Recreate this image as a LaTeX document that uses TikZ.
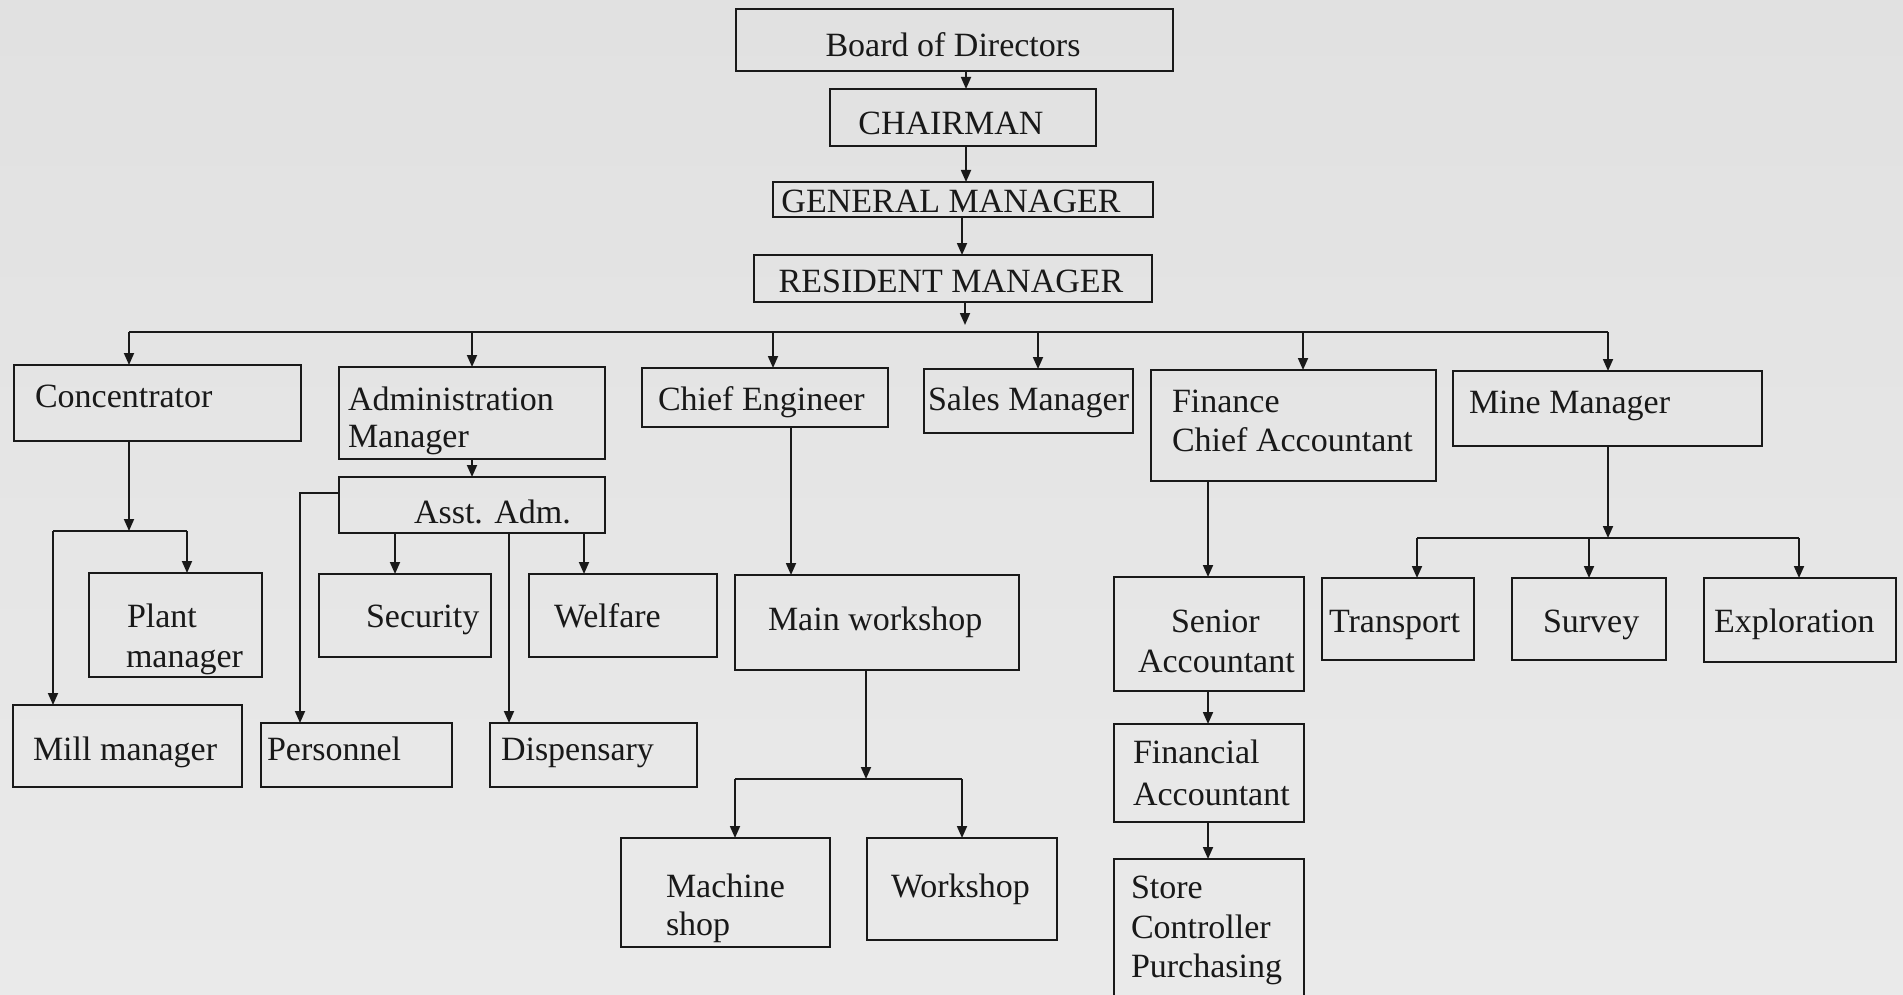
\documentclass[tikz,border=0pt]{standalone}
\usepackage{fontspec}
\setmainfont{Liberation Serif}
\newfontfamily\tnr{Liberation Serif}
\usetikzlibrary{arrows.meta,fit}
\definecolor{bg}{RGB}{225,225,225}
\definecolor{bgl}{RGB}{234,234,234}
\definecolor{ink}{RGB}{25,25,25}
\tikzset{
  box/.style={draw=ink, line width=2.8pt, inner sep=0pt, outer sep=0pt, rectangle},
  txt/.style={inner sep=0pt, outer sep=0pt, text=ink, font=\tnr\fontsize{34}{39}\selectfont, anchor=base west},
  ctxt/.style={txt, anchor=base},
  arr/.style={draw=ink, line width=1.8pt, -{Triangle[length=12pt,width=10pt]}},
  conn/.style={draw=ink, line width=1.8pt},
  busline/.style={draw=ink, line width=2.6pt}
}
\begin{document}
\begin{tikzpicture}[x=1pt,y=-1pt]
\clip (0,0) rectangle (1903,995);
\shade[top color=bg, bottom color=bgl] (0,0) rectangle (1903,995);
% boxes
\node[box, fit={(736,9)(1173,71)}] (board) {};
\node[box, fit={(830,89)(1096,146)}] (chair) {};
\node[box, fit={(773,182)(1153,217)}] (gm) {};
\node[box, fit={(754,255)(1152,302)}] (rm) {};
\node[box, fit={(14,365)(301,441)}] (conc) {};
\node[box, fit={(339,367)(605,459)}] (admin) {};
\node[box, fit={(642,368)(888,427)}] (chiefeng) {};
\node[box, fit={(924,369)(1133,433)}] (sales) {};
\node[box, fit={(1151,370)(1436,481)}] (fin) {};
\node[box, fit={(1453,371)(1762,446)}] (mine) {};
\node[box, fit={(339,477)(605,533)}] (asst) {};
\node[box, fit={(89,573)(262,677)}] (plant) {};
\node[box, fit={(13,705)(242,787)}] (mill) {};
\node[box, fit={(319,574)(491,657)}] (security) {};
\node[box, fit={(529,574)(717,657)}] (welfare) {};
\node[box, fit={(261,723)(452,787)}] (personnel) {};
\node[box, fit={(490,723)(697,787)}] (dispensary) {};
\node[box, fit={(735,575)(1019,670)}] (mainws) {};
\node[box, fit={(621,838)(830,947)}] (machine) {};
\node[box, fit={(867,838)(1057,940)}] (workshop) {};
\node[box, fit={(1114,577)(1304,691)}] (senior) {};
\node[box, fit={(1114,724)(1304,822)}] (finacc) {};
\node[box, fit={(1114,859)(1304,1010)}] (store) {};
\node[box, fit={(1322,578)(1474,660)}] (transport) {};
\node[box, fit={(1512,578)(1666,660)}] (survey) {};
\node[box, fit={(1704,578)(1896,662)}] (explor) {};
% texts
\node[ctxt] (tboard) at (953,57) {Board of Directors};
\node[ctxt] (tchair) at (951,135) {CHAIRMAN};
\node[ctxt] (tgm) at (951,213) {GENERAL MANAGER};
\node[ctxt] (trm) at (951,292) {RESIDENT MANAGER};
\node[txt] (tconc) at (35,407) {Concentrator};
\node[txt] (tadm1) at (348,410) {Administration};
\node[txt] (tadm2) at (348,447) {Manager};
\node[txt] (tce) at (658,410) {Chief Engineer};
\node[txt] (tsales) at (928,410) {Sales Manager};
\node[txt] (tfin1) at (1172,412) {Finance};
\node[txt] (tfin2) at (1172,451) {Chief Accountant};
\node[txt] (tmine) at (1469,413) {Mine Manager};
\node[txt] (tasst) at (414,523) {Asst. Adm.};
\node[txt] (tplant1) at (127,627) {Plant};
\node[txt] (tplant2) at (126,667) {manager};
\node[txt] (tsec) at (366,627) {Security};
\node[txt] (twel) at (554,627) {Welfare};
\node[txt] (tmill) at (33,760) {Mill manager};
\node[txt] (tpers) at (267,760) {Personnel};
\node[txt] (tdisp) at (501,760) {Dispensary};
\node[txt] (tmain) at (768,630) {Main workshop};
\node[txt] (tmach1) at (666,897) {Machine};
\node[txt] (tmach2) at (666,935) {shop};
\node[txt] (tws) at (891,897) {Workshop};
\node[txt] (tsen1) at (1171,632) {Senior};
\node[txt] (tsen2) at (1138,672) {Accountant};
\node[txt] (tfa1) at (1133,763) {Financial};
\node[txt] (tfa2) at (1133,805) {Accountant};
\node[txt] (tst1) at (1131,898) {Store};
\node[txt] (tst2) at (1131,938) {Controller};
\node[txt] (tst3) at (1131,977) {Purchasing};
\node[txt] (ttr) at (1329,632) {Transport};
\node[txt] (tsu) at (1543,632) {Survey};
\node[txt] (tex) at (1714,632) {Exploration};
% coordinates
\coordinate (xtop) at (966,0);
\coordinate (xgm) at (962,0);
\coordinate (busRM) at (965,332);
\coordinate (busL) at (129,332);
\coordinate (busA) at (472,332);
\coordinate (busC) at (773,332);
\coordinate (busS) at (1038,332);
\coordinate (busF) at (1303,332);
\coordinate (busR) at (1608,332);
\coordinate (cL) at (53,531);
\coordinate (cM) at (129,531);
\coordinate (cR) at (187,531);
\coordinate (pK) at (300,493);
\coordinate (xs) at (395,0);
\coordinate (xw) at (584,0);
\coordinate (xd) at (509,0);
\coordinate (xce) at (791,0);
\coordinate (mL) at (735,779);
\coordinate (mM) at (866,779);
\coordinate (mR) at (962,779);
\coordinate (xf) at (1208,0);
\coordinate (sL) at (1417,538);
\coordinate (sM) at (1608,538);
\coordinate (sS) at (1589,538);
\coordinate (sR) at (1799,538);
% top chain
\draw[arr] (board.south -| xtop) -- (chair.north -| xtop);
\draw[arr] (chair.south -| xtop) -- (gm.north -| xtop);
\draw[arr] (gm.south -| xgm) -- (rm.north -| xgm);
\draw[arr] (rm.south -| busRM) -- ([yshift=7pt]busRM);
% main bus
\draw[busline] (busL) -- (busR);
\draw[arr] (busL) -- (conc.north -| busL);
\draw[arr] (busA) -- (admin.north -| busA);
\draw[arr] (busC) -- (chiefeng.north -| busC);
\draw[arr] (busS) -- (sales.north -| busS);
\draw[arr] (busF) -- (fin.north -| busF);
\draw[arr] (busR) -- (mine.north -| busR);
% concentrator
\draw[arr] (conc.south -| cM) -- (cM);
\draw[busline] (cL) -- (cR);
\draw[arr] (cR) -- (plant.north -| cR);
\draw[arr] (cL) -- (mill.north -| cL);
% administration
\draw[arr] (admin.south -| busA) -- (asst.north -| busA);
\draw[arr] (asst.west |- pK) -- (pK) -- (personnel.north -| pK);
\draw[arr] (asst.south -| xs) -- (security.north -| xs);
\draw[arr] (asst.south -| xw) -- (welfare.north -| xw);
\draw[arr] (asst.south -| xd) -- (dispensary.north -| xd);
% chief engineer
\draw[arr] (chiefeng.south -| xce) -- (mainws.north -| xce);
\draw[arr] (mainws.south -| mM) -- (mM);
\draw[busline] (mL) -- (mR);
\draw[arr] (mL) -- (machine.north -| mL);
\draw[arr] (mR) -- (workshop.north -| mR);
% finance
\draw[arr] (fin.south -| xf) -- (senior.north -| xf);
\draw[arr] (senior.south -| xf) -- (finacc.north -| xf);
\draw[arr] (finacc.south -| xf) -- (store.north -| xf);
% mine
\draw[arr] (mine.south -| sM) -- (sM);
\draw[busline] (sL) -- (sR);
\draw[arr] (sL) -- (transport.north -| sL);
\draw[arr] (sS) -- (survey.north -| sS);
\draw[arr] (sR) -- (explor.north -| sR);
\end{tikzpicture}
\end{document}
